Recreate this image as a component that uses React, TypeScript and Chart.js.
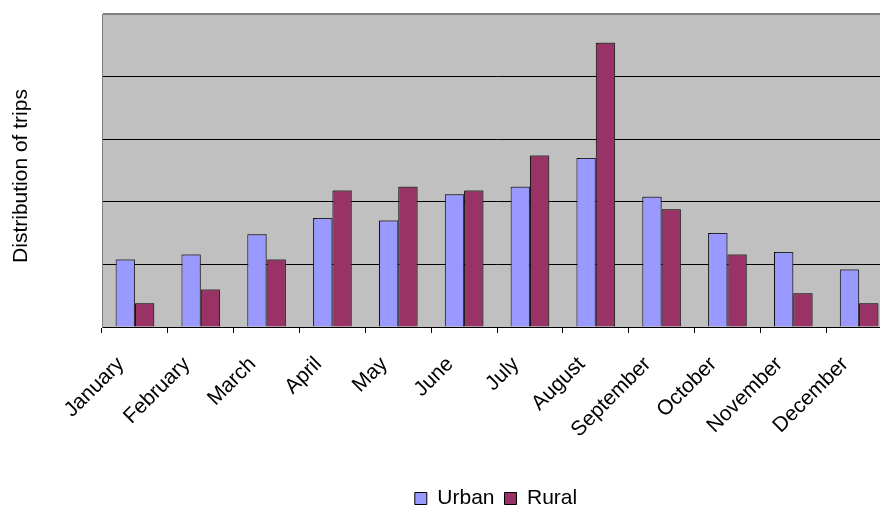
import { useEffect, useRef } from "react";
import { Chart, registerables } from "chart.js";

Chart.register(...registerables);

const months = [
  "January", "February", "March", "April", "May", "June",
  "July", "August", "September", "October", "November", "December",
];
const urban = [5.4, 5.8, 7.4, 8.7, 8.5, 10.6, 11.2, 13.5, 10.4, 7.5, 6.0, 4.6];
const rural = [1.9, 3.0, 5.4, 10.9, 11.2, 10.9, 13.7, 22.7, 9.4, 5.8, 2.7, 1.9];
const seriesNames = ["Urban", "Rural"];
const yAxisTitle = "Distribution of trips";
const yMin = 0;
const yMax = 25;
const yStep = 5;

const W = 992;
const H = 519;
const PLOT_LEFT = 102;
const PLOT_RIGHT = 892;
const PLOT_TOP = 14;
const PLOT_BOTTOM = 327;

const FAMILY = "'Liberation Sans', Arial, sans-serif";
const font = { family: FAMILY, size: 21 };

export default function App() {
  const ref = useRef<HTMLCanvasElement>(null);

  useEffect(() => {
    const bg = {
      id: "plotBg",
      beforeDraw(chart: any) {
        const { ctx, chartArea: a } = chart;
        ctx.save();
        ctx.fillStyle = "#C0C0C0";
        ctx.fillRect(a.left, a.top, a.right - a.left, a.bottom - a.top);
        ctx.restore();
      },
    };
    const barShadow = {
      id: "barShadow",
      beforeDatasetsDraw(chart: any) {
        const { ctx } = chart;
        ctx.save();
        ctx.shadowColor = "rgba(70,70,70,0.6)";
        ctx.shadowOffsetX = 1.5;
        ctx.shadowOffsetY = -1.5;
        ctx.shadowBlur = 0;
      },
      afterDatasetsDraw(chart: any) {
        chart.ctx.restore();
      },
    };
    const yTitle = {
      id: "yTitle",
      afterDraw(chart: any) {
        const { ctx } = chart;
        ctx.save();
        ctx.translate(21, 176);
        ctx.rotate(-Math.PI / 2);
        ctx.font = `21px ${FAMILY}`;
        ctx.fillStyle = "#000";
        ctx.textAlign = "center";
        ctx.textBaseline = "middle";
        ctx.fillText(yAxisTitle, 0, 0);
        ctx.restore();
      },
    };

    const chart = new Chart(ref.current as HTMLCanvasElement, {
      type: "bar",
      data: {
        labels: months,
        datasets: [
          {
            label: seriesNames[0],
            data: urban,
            backgroundColor: "#9999FF",
            borderColor: "#000000",
            borderWidth: 1,
            categoryPercentage: 0.586,
            barPercentage: 1,
          },
          {
            label: seriesNames[1],
            data: rural,
            backgroundColor: "#993366",
            borderColor: "#000000",
            borderWidth: 1,
            categoryPercentage: 0.586,
            barPercentage: 1,
          },
        ],
      },
      options: {
        animation: false,
        responsive: false,
        devicePixelRatio: 1,
        layout: { padding: { top: PLOT_TOP, left: 0, right: 0, bottom: 0 } },
        plugins: {
          legend: {
            position: "bottom",
            labels: {
              boxWidth: 12,
              boxHeight: 12,
              padding: 10,
              color: "#000",
              font,
            },
          },
          tooltip: { enabled: false },
        },
        scales: {
          x: {
            grid: {
              display: true,
              drawOnChartArea: false,
              drawTicks: true,
              tickLength: 6,
              color: "#000",
            },
            border: { display: true, color: "#000" },
            ticks: {
              maxRotation: 45,
              minRotation: 45,
              autoSkip: false,
              padding: 19,
              labelOffset: -14,
              color: "#000",
              font,
            },
            afterFit(s: any) {
              const lh = s.chart.legend ? s.chart.legend.height : 41;
              s.height = H - PLOT_BOTTOM - lh;
            },
          },
          y: {
            min: yMin,
            max: yMax,
            ticks: { display: false, stepSize: yStep },
            grid: {
              drawTicks: false,
              color: (c: any) => (c.index === 5 ? "#808080" : "#000"),
              lineWidth: (c: any) => (c.index === 5 ? 2 : 1),
            },
            border: { display: true, color: "#808080" },
            title: { display: false },
            afterFit(s: any) {
              s.width = PLOT_LEFT;
            },
          },
          y2: {
            position: "right",
            display: true,
            grid: { display: false },
            ticks: { display: false },
            border: { display: false },
            afterFit(s: any) {
              s.width = W - PLOT_RIGHT;
            },
          },
        },
      } as any,
      plugins: [bg, barShadow, yTitle],
    });
    return () => chart.destroy();
  }, []);

  return (
    <div
      style={{
        position: "fixed",
        left: 0,
        top: 0,
        width: 880,
        height: 507,
        overflow: "hidden",
        background: "#fff",
      }}
    >
      <canvas ref={ref} width={W} height={H} style={{ display: "block" }} />
    </div>
  );
}
